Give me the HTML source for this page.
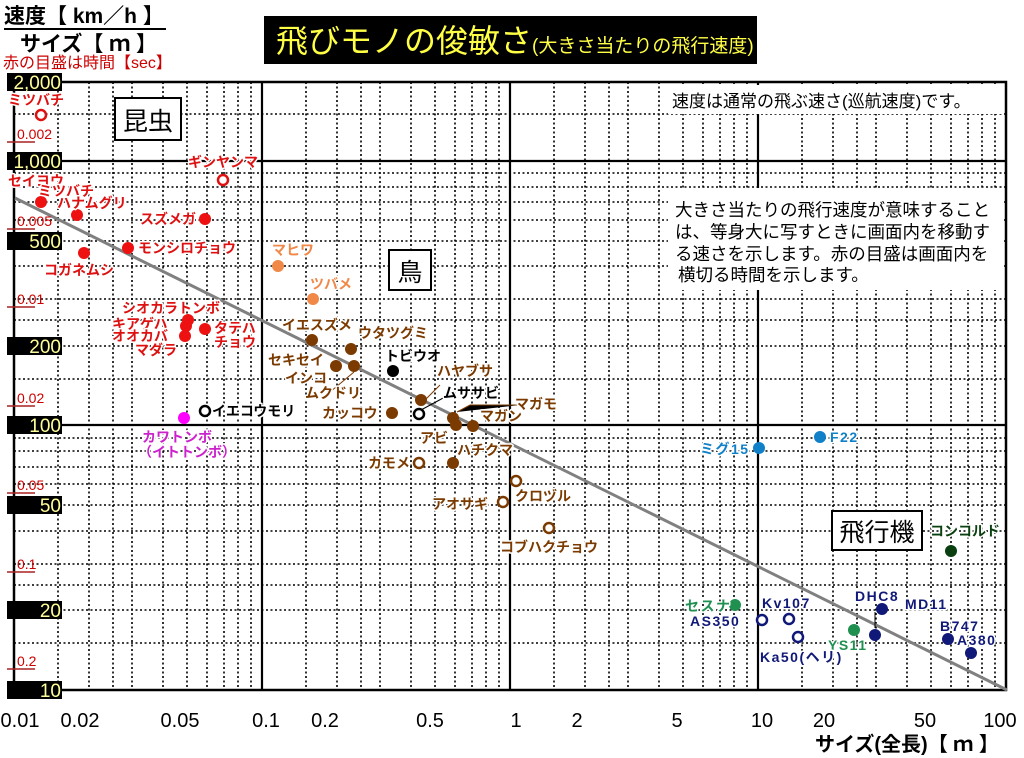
<!DOCTYPE html>
<html><head><meta charset="utf-8"><style>
body{margin:0;background:#fff}
svg{display:block}
text{font-family:"Liberation Sans","Noto Sans CJK JP",sans-serif}
.lb{font-size:14px;font-weight:bold;paint-order:stroke;stroke:#fff;stroke-width:3px;stroke-linejoin:round}
.la{letter-spacing:1.5px}
.d{stroke:#000;stroke-width:1.6;stroke-dasharray:2 2.5;fill:none}
.s{stroke:#000;stroke-width:2.2;fill:none}
.yb{fill:#000}
.yt{fill:#ffff99;font-size:19px;text-anchor:end}
.rt{fill:#cc0000;font-size:14px}
.xt{font-size:20px;text-anchor:middle}
</style></head><body>
<svg width="1024" height="758" viewBox="0 0 1024 758" xmlns="http://www.w3.org/2000/svg">
<rect width="1024" height="758" fill="#fff"/>
<g class="d">
<path d="M58 82V690M89 82V690M113 82V690M132 82V690M163 82V690M187 82V690M207 82V690M224 82V690M238 82V690M251 82V690
M306 82V690M337 82V690M361 82V690M380 82V690M411 82V690M435 82V690M455 82V690M472 82V690M486 82V690M499 82V690
M554 82V690M585 82V690M609 82V690M628 82V690M659 82V690M683 82V690M703 82V690M720 82V690M734 82V690M747 82V690
M802 82V690M833 82V690M857 82V690M876 82V690M907 82V690M931 82V690M951 82V690M968 82V690M982 82V690M995 82V690"/>
<path d="M14 643H1006M14 610H1006M14 585H1006M14 564H1006M14 531H1006M14 505H1006M14 484H1006M14 467H1006M14 451H1006M14 438H1006
M14 379H1006M14 346H1006M14 320H1006M14 299H1006M14 266H1006M14 241H1006M14 220H1006M14 202H1006M14 187H1006M14 173H1006M14 114H1006"/>
</g>
<g class="s">
<path d="M262 82V690M510 82V690M758 82V690M14 161H1006M14 425H1006"/>
<rect x="14" y="82" width="992" height="608" stroke-width="2.5"/>
</g>
<line x1="15" y1="198" x2="1007" y2="690" stroke="#808080" stroke-width="3"/>

<rect x="668" y="85" width="336" height="29" fill="#fff"/>
<text x="672" y="107" font-size="17">速度は通常の飛ぶ速さ(巡航速度)です。</text>
<rect x="668" y="188" width="336" height="102" fill="#fff"/>
<g font-size="17.5"><text x="675" y="216">大きさ当たりの飛行速度が意味すること</text>
<text x="675" y="238">は、等身大に写すときに画面内を移動す</text>
<text x="675" y="260">る速さを示します。赤の目盛は画面内を</text>
<text x="678" y="281">横切る時間を示します。</text></g>

<rect x="115" y="98" width="66" height="42" fill="#fff" stroke="#000" stroke-width="2"/>
<text x="148" y="130" font-size="25" text-anchor="middle">昆虫</text>
<rect x="389" y="250" width="42" height="40" fill="#fff" stroke="#000" stroke-width="2"/>
<text x="410" y="281" font-size="25" text-anchor="middle">鳥</text>
<rect x="832" y="511" width="90" height="39" fill="#fff" stroke="#000" stroke-width="2"/>
<text x="877" y="541" font-size="25" text-anchor="middle">飛行機</text>

<rect x="264" y="16" width="493" height="48" fill="#000"/>
<text x="276" y="52" font-size="32" fill="#ffff44">飛びモノの俊敏さ<tspan font-size="19">(大きさ当たりの飛行速度)</tspan></text>

<text x="4" y="23" font-size="21" font-weight="bold">速度【 km／h 】</text>
<line x1="4" y1="29" x2="166" y2="29" stroke="#000" stroke-width="2"/>
<text x="20" y="51" font-size="21" font-weight="bold">サイズ【 ｍ 】</text>
<text x="3" y="68" font-size="16" fill="#cc0000">赤の目盛は時間【sec】</text>

<g>
<rect class="yb" x="7" y="73" width="55" height="18"/><text class="yt" x="61" y="89">2,000</text>
<rect class="yb" x="7" y="152" width="55" height="18"/><text class="yt" x="61" y="168">1,000</text>
<rect class="yb" x="7" y="232" width="55" height="18"/><text class="yt" x="61" y="248">500</text>
<rect class="yb" x="7" y="337" width="55" height="18"/><text class="yt" x="61" y="353">200</text>
<rect class="yb" x="7" y="416" width="55" height="18"/><text class="yt" x="61" y="432">100</text>
<rect class="yb" x="7" y="496" width="55" height="18"/><text class="yt" x="61" y="512">50</text>
<rect class="yb" x="7" y="601" width="55" height="18"/><text class="yt" x="61" y="617">20</text>
<rect class="yb" x="7" y="681" width="55" height="18"/><text class="yt" x="61" y="697">10</text>
</g>
<g stroke="#aa2222" stroke-width="1.5">
<path d="M7 142H35M7 229H35M7 307H35M7 406H35M7 493H35M7 572H35M7 669H35"/>
</g>
<g class="rt">
<text x="17" y="139">0.002</text><text x="17" y="226">0.005</text><text x="17" y="304">0.01</text>
<text x="17" y="403">0.02</text><text x="17" y="490">0.05</text><text x="17" y="569">0.1</text><text x="17" y="666">0.2</text>
</g>

<g class="xt">
<text x="20" y="727">0.01</text><text x="80" y="727">0.02</text><text x="180" y="727">0.05</text>
<text x="266" y="727">0.1</text><text x="325" y="727">0.2</text><text x="430" y="727">0.5</text>
<text x="516" y="727">1</text><text x="577" y="727">2</text><text x="677" y="727">5</text>
<text x="762" y="727">10</text><text x="824" y="727">20</text><text x="925" y="727">50</text><text x="1000" y="727">100</text>
</g>
<text x="815" y="751" font-size="20" font-weight="bold">サイズ(全長)【 ｍ 】</text>

<g stroke="#7a3a00" stroke-width="1">
<path d="M354 372L330 392M421 404L440 385M457 412L470 405H520"/>
</g>
<path d="M421 410L445 397" stroke="#000" stroke-width="1"/>
<path d="M875 628V612" stroke="#000" stroke-width="1"/>

<g fill="#ee1111">
<circle cx="41" cy="202" r="6"/><circle cx="77" cy="215" r="6"/><circle cx="205" cy="219" r="6"/>
<circle cx="128" cy="248" r="6"/><circle cx="84" cy="253" r="6"/><circle cx="188" cy="320" r="6"/>
<circle cx="186" cy="326" r="6"/><circle cx="185" cy="336" r="6"/><circle cx="205" cy="329" r="6"/>
</g>
<g fill="#fff" stroke="#dd1111" stroke-width="2.5">
<circle cx="41" cy="115" r="5"/><circle cx="223" cy="180" r="5"/>
</g>
<g class="lb" fill="#dd1111">
<text x="8" y="105">ミツバチ</text><text x="188" y="167">ギンヤンマ</text>
<text x="8" y="186">セイヨウ</text><text x="38" y="196">ミツバチ</text><text x="57" y="208">ハナムグリ</text>
<text x="140" y="224">スズメガ</text><text x="138" y="253">モンシロチョウ</text><text x="44" y="275">コガネムシ</text>
<text x="122" y="313">シオカラトンボ</text><text x="112" y="329">キアゲハ</text><text x="112" y="341">オオカバ</text>
<text x="135" y="355">マダラ</text><text x="214" y="333">タテハ</text><text x="214" y="347">チョウ</text>
</g>
<circle cx="184" cy="418" r="6" fill="#ff00ff"/>
<g class="lb" fill="#cc22cc"><text x="142" y="442">カワトンボ</text><text x="138" y="457">（イトトンボ）</text></g>
<circle cx="205" cy="411" r="5" fill="#fff" stroke="#000" stroke-width="2.5"/>
<text class="lb" x="212" y="416" fill="#000">イエコウモリ</text>

<g fill="#f08848"><circle cx="278" cy="266" r="6"/><circle cx="313" cy="299" r="6"/></g>
<g class="lb" fill="#f08848"><text x="272" y="255">マヒワ</text><text x="310" y="289">ツバメ</text></g>
<g fill="#7a3a00">
<circle cx="312" cy="340" r="6"/><circle cx="351" cy="349" r="6"/><circle cx="336" cy="366" r="6"/>
<circle cx="354" cy="366" r="6"/><circle cx="421" cy="400" r="6"/><circle cx="392" cy="413" r="6"/>
<circle cx="453" cy="418" r="6"/><circle cx="456" cy="425" r="6"/><circle cx="473" cy="426" r="6"/>
<circle cx="453" cy="463" r="6"/>
</g>
<g fill="#fff" stroke="#7a3a00" stroke-width="2.5">
<circle cx="419" cy="463" r="5"/><circle cx="516" cy="481" r="5"/><circle cx="503" cy="502" r="5"/><circle cx="549" cy="528" r="5"/>
</g>
<g class="lb" fill="#7a3a00">
<text x="282" y="330">イエスズメ</text><text x="358" y="338">ウタツグミ</text>
<text x="268" y="365">セキセイ</text><text x="285" y="383">インコ</text><text x="305" y="398">ムクドリ</text>
<text x="437" y="376">ハヤブサ</text><text x="322" y="418">カッコウ</text>
<text x="515" y="409">マガモ</text><text x="480" y="421">マガン</text><text x="420" y="443">アビ</text>
<text x="457" y="455">ハチクマ</text><text x="368" y="468">カモメ</text><text x="515" y="501">クロヅル</text>
<text x="432" y="509">アオサギ</text><text x="500" y="552">コブハクチョウ</text>
</g>
<circle cx="393" cy="371" r="6" fill="#000"/>
<circle cx="419" cy="414" r="5" fill="#fff" stroke="#000" stroke-width="2.5"/>
<g class="lb" fill="#000"><text x="385" y="361">トビウオ</text><text x="443" y="398">ムササビ</text></g>

<g fill="#1080c8"><circle cx="759" cy="448" r="6"/><circle cx="820" cy="437" r="6"/></g>
<g class="lb la" fill="#1080c8"><text x="700" y="454">ミグ15</text><text x="830" y="442">F22</text></g>
<circle cx="951" cy="551" r="6" fill="#0a4010"/>
<text class="lb" x="930" y="536" fill="#0a4010">コンコルド</text>
<g fill="#1f9050"><circle cx="735" cy="605" r="6"/><circle cx="854" cy="630" r="6"/></g>
<g class="lb la" fill="#1f9050"><text x="685" y="611">セスナ</text><text x="828" y="650">YS11</text></g>
<g fill="#101878"><circle cx="882" cy="609" r="6"/><circle cx="875" cy="635" r="6"/><circle cx="948" cy="639" r="6"/><circle cx="971" cy="653" r="6"/></g>
<g fill="#fff" stroke="#101878" stroke-width="2.5"><circle cx="762" cy="620" r="5"/><circle cx="789" cy="619" r="5"/><circle cx="798" cy="637" r="5"/></g>
<g class="lb la" fill="#101878">
<text x="855" y="601">DHC8</text><text x="905" y="609">MD11</text><text x="940" y="631">B747</text><text x="957" y="645">A380</text>
<text x="690" y="626">AS350</text><text x="762" y="608">Kv107</text><text x="760" y="662">Ka50(ヘリ)</text>
</g>
</svg>
</body></html>
